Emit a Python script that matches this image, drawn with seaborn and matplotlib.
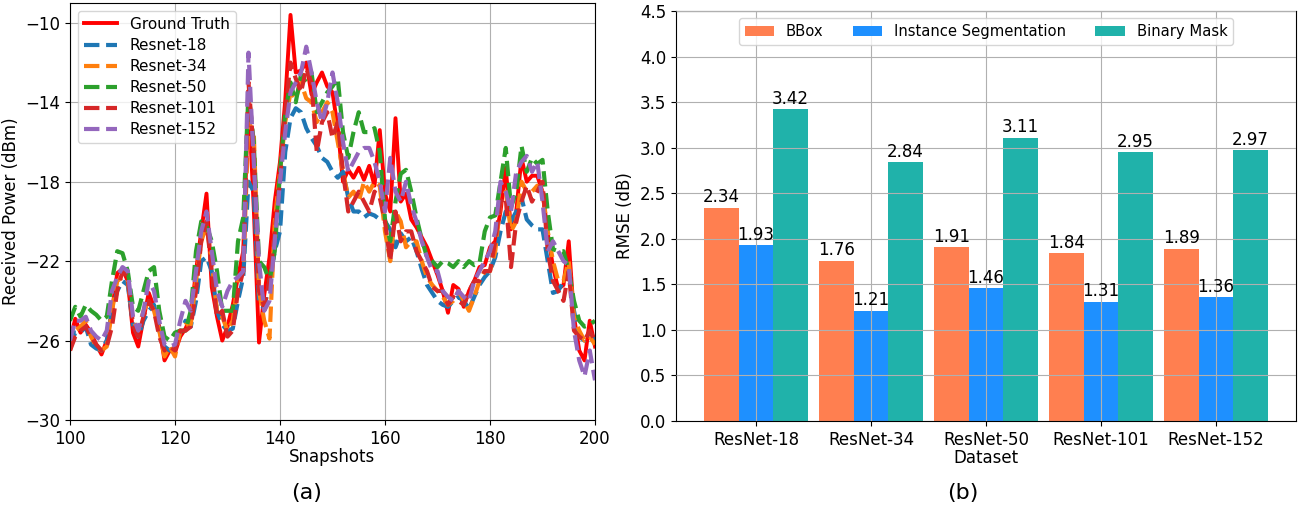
import matplotlib
matplotlib.use("Agg")
import matplotlib.pyplot as plt
import pandas as pd
import seaborn as sns

# ---------------- data: panel (a) ----------------
snapshots = list(range(100, 201))

ground_truth = [
    -26.0, -24.9, -25.6, -25.2, -25.6, -26.2, -26.7, -26.0, -24.5, -22.6,
    -22.4, -23.0, -25.6, -26.3, -24.9, -23.6, -24.3, -25.3, -27.0, -26.5,
    -26.6, -25.8, -25.4, -24.8, -22.5, -20.5, -18.6, -23.3, -24.8, -26.0,
    -25.3, -24.2, -22.8, -21.5, -13.8, -19.3, -26.1, -23.7, -21.8, -19.0,
    -17.0, -13.9, -9.6, -12.5, -12.4, -12.0, -13.6, -13.0, -12.5, -13.2,
    -13.5, -15.3, -18.0, -17.4, -17.8, -17.3, -17.9, -17.2, -18.2, -15.4,
    -18.6, -19.5, -14.8, -19.0, -18.6, -19.9, -20.3, -20.8, -21.3, -22.0,
    -22.7, -23.5, -24.6, -23.2, -23.4, -24.3, -23.5, -23.0, -22.3, -22.2,
    -21.3, -21.0, -19.5, -17.3, -20.4, -19.5, -16.8, -18.0, -17.7, -17.7,
    -18.5, -20.6, -22.3, -23.4, -23.2, -21.0, -24.8, -26.5, -27.0, -25.0,
    -26.3]

resnet18 = [
    -26.3, -25.6, -25.6, -25.3, -26.2, -26.4, -26.5, -26.0, -24.5, -23.5,
    -23.0, -23.2, -25.2, -25.8, -25.0, -24.5, -24.2, -25.5, -26.3, -26.5,
    -26.3, -25.6, -25.0, -25.3, -24.0, -22.0, -21.8, -22.5, -24.5, -25.2,
    -25.5, -25.4, -24.0, -22.8, -18.0, -18.5, -24.0, -24.4, -23.0, -21.5,
    -20.5, -16.5, -14.8, -14.3, -14.5, -15.3, -15.8, -16.2, -16.8, -17.0,
    -17.5, -17.8, -17.5, -18.8, -19.5, -19.5, -19.8, -19.6, -19.7, -19.9,
    -20.0, -20.4, -21.3, -20.6, -21.0, -20.8, -21.5, -22.4, -23.2, -23.6,
    -24.0, -24.2, -24.3, -24.0, -23.8, -24.0, -24.4, -23.8, -23.2, -22.8,
    -22.5, -21.8, -20.5, -19.5, -20.0, -19.5, -18.8, -19.9, -20.2, -20.4,
    -20.4, -22.0, -23.6, -23.5, -23.0, -22.5, -24.5, -25.8, -26.0, -25.6,
    -26.0]

resnet34 = [
    -26.5, -25.5, -25.3, -25.0, -25.8, -26.3, -26.5, -26.3, -24.5, -23.0,
    -22.8, -23.0, -25.0, -25.5, -24.5, -24.0, -24.5, -25.5, -26.8, -26.3,
    -26.8, -25.5, -25.2, -25.2, -23.0, -21.0, -20.2, -22.0, -24.5, -24.8,
    -25.5, -25.0, -23.0, -22.5, -15.0, -15.5, -23.5, -25.0, -25.9, -20.0,
    -17.5, -15.0, -13.5, -13.8, -13.0, -13.8, -14.0, -15.0, -14.5, -14.0,
    -14.5, -16.0, -17.5, -18.8, -18.5, -19.0, -18.0, -18.5, -18.0, -18.2,
    -20.5, -22.0, -19.5, -20.0, -21.3, -21.0, -21.0, -22.0, -22.8, -23.2,
    -23.5, -23.8, -24.2, -24.0, -23.5, -24.0, -24.5, -23.8, -23.0, -22.5,
    -22.5, -21.5, -19.0, -18.5, -20.5, -20.0, -18.0, -18.5, -18.5, -18.2,
    -18.5, -20.5, -22.0, -23.0, -23.0, -22.0, -24.8, -25.5, -26.0, -25.8,
    -26.2]

resnet50 = [
    -25.0, -24.3, -24.8, -24.2, -24.5, -24.7, -25.0, -24.8, -23.0, -21.5,
    -21.6, -22.5, -24.3, -24.5, -23.5, -22.5, -22.3, -24.5, -25.8, -26.0,
    -25.6, -25.5, -25.5, -24.5, -21.5, -20.0, -20.2, -21.0, -22.5, -24.5,
    -24.5, -24.5, -21.0, -19.8, -13.5, -16.0, -22.0, -22.3, -23.0, -21.5,
    -17.5, -14.5, -13.0, -14.0, -12.6, -13.0, -12.5, -14.5, -14.0, -13.5,
    -13.2, -12.8, -15.5, -16.8, -15.5, -14.5, -15.5, -15.5, -15.3, -16.5,
    -19.9, -21.0, -19.0, -17.6, -17.4, -18.5, -19.8, -20.9, -21.8, -22.0,
    -22.3, -22.0, -22.1, -22.3, -22.0, -22.3, -22.0, -22.2, -22.1, -20.5,
    -19.8, -19.7, -18.0, -16.3, -19.3, -18.5, -16.2, -17.5, -16.8, -17.1,
    -16.9, -19.5, -21.4, -21.5, -21.5, -22.5, -24.0, -25.0, -25.3, -25.2,
    -25.0]

resnet101 = [
    -26.5, -25.8, -25.5, -25.3, -25.8, -26.2, -26.5, -26.3, -25.3, -23.5,
    -22.5, -22.8, -25.2, -25.8, -24.8, -24.0, -24.5, -25.8, -26.5, -26.3,
    -26.5, -25.5, -25.5, -25.3, -23.5, -21.0, -20.0, -22.5, -24.8, -24.5,
    -25.8, -25.5, -23.5, -22.5, -13.0, -16.5, -23.5, -24.3, -23.0, -20.5,
    -18.0, -14.5, -12.0, -12.8, -13.5, -12.3, -13.0, -16.5, -15.0, -14.5,
    -15.8, -15.0, -17.5, -19.5, -19.0, -18.5, -19.0, -19.5, -18.5, -18.8,
    -20.0, -22.0, -19.5, -21.0, -20.5, -20.5, -21.5, -22.0, -22.5, -23.3,
    -23.5, -23.5, -24.2, -23.8, -24.0, -24.2, -23.5, -23.0, -23.0, -22.5,
    -22.5, -21.0, -19.0, -18.8, -22.3, -20.0, -19.0, -18.2, -19.0, -18.5,
    -18.0, -21.5, -23.0, -23.5, -24.0, -22.5, -25.5, -25.8, -26.0, -25.5,
    -26.0]

resnet152 = [
    -26.0, -25.0, -25.0, -24.8, -25.5, -25.8, -26.0, -25.5, -23.5, -22.8,
    -22.3, -22.5, -24.8, -25.5, -24.5, -23.0, -23.5, -25.0, -26.2, -26.3,
    -26.2, -25.0, -24.0, -24.5, -22.5, -20.5, -19.5, -21.5, -23.5, -24.3,
    -23.5, -23.0, -22.8, -22.5, -11.5, -17.0, -22.0, -24.5, -24.0, -21.0,
    -18.0, -15.5, -13.5, -13.0, -12.5, -11.2, -12.5, -14.0, -15.0, -14.0,
    -12.5, -14.0, -16.0, -17.5, -17.0, -16.5, -16.3, -16.3, -17.0, -18.0,
    -19.5, -16.8, -18.5, -19.0, -18.0, -19.2, -20.0, -21.0, -21.8, -22.5,
    -22.5, -23.5, -23.8, -24.0, -23.5, -23.8, -24.0, -23.0, -22.5, -22.0,
    -21.5, -20.5, -18.0, -18.5, -19.5, -17.5, -17.0, -16.7, -17.5, -17.0,
    -19.0, -21.5, -21.0, -21.5, -22.0, -22.2, -25.5, -27.0, -27.8, -26.5,
    -28.0]

series_names = ["Ground Truth", "Resnet-18", "Resnet-34", "Resnet-50",
                "Resnet-101", "Resnet-152"]
series_values = [ground_truth, resnet18, resnet34, resnet50, resnet101, resnet152]
series_colors = ["#ff0000", "#1f77b4", "#ff7f0e", "#2ca02c", "#d62728", "#9467bd"]
series_styles = ["-", "--", "--", "--", "--", "--"]

# ---------------- data: panel (b) ----------------
datasets = ["ResNet-18", "ResNet-34", "ResNet-50", "ResNet-101", "ResNet-152"]
methods = ["BBox", "Instance Segmentation", "Binary Mask"]
bbox_rmse = [2.34, 1.76, 1.91, 1.84, 1.89]
instance_rmse = [1.93, 1.21, 1.46, 1.31, 1.36]
binary_rmse = [3.42, 2.84, 3.11, 2.95, 2.97]
method_colors = ["#ff7f50", "#1e90ff", "#20b2aa"]

# ---------------- figure ----------------
W, H = 1308, 514
fig = plt.figure(figsize=(W / 100, H / 100), dpi=100)
ax1 = fig.add_axes([70 / W, 94 / H, 525 / W, 417 / H])
ax2 = fig.add_axes([676 / W, 93 / H, 620 / W, 410 / H])

# panel (a)
for name, vals, col, ls in zip(series_names, series_values, series_colors, series_styles):
    sns.lineplot(x=snapshots, y=vals, ax=ax1, color=col, linestyle=ls,
                 linewidth=2.8 if ls == "-" else 3.0, label=name)
ax1.set_xlim(100, 200)
ax1.set_ylim(-30, -9)
ax1.set_xticks([100, 120, 140, 160, 180, 200])
ax1.set_yticks([-30, -26, -22, -18, -14, -10])
ax1.grid(True, color="#b0b0b0", linewidth=0.8)
ax1.set_xlabel("Snapshots", fontsize=12, labelpad=0)
ax1.set_ylabel("Received Power (dBm)", fontsize=12)
ax1.tick_params(labelsize=12)
ax1.legend(loc="upper left", fontsize=11, labelspacing=0.4, handlelength=2.2)

# panel (b)
df = pd.DataFrame({
    "Dataset": datasets * 3,
    "RMSE": bbox_rmse + instance_rmse + binary_rmse,
    "Method": [methods[0]] * 5 + [methods[1]] * 5 + [methods[2]] * 5,
})
sns.barplot(data=df, x="Dataset", y="RMSE", hue="Method", order=datasets,
            hue_order=methods, palette=dict(zip(methods, method_colors)),
            width=0.9, errorbar=None, saturation=1, ax=ax2, linewidth=0)
for cont in ax2.containers:
    ax2.bar_label(cont, fmt="%.2f", fontsize=12, padding=1)
ax2.set_xlim(-0.695, 4.695)
ax2.set_ylim(0, 4.5)
ax2.set_yticks([0.0, 0.5, 1.0, 1.5, 2.0, 2.5, 3.0, 3.5, 4.0, 4.5])
ax2.grid(True, color="#b0b0b0", linewidth=0.8)
ax2.set_axisbelow(False)
ax2.set_xlabel("Dataset", fontsize=12, labelpad=0)
ax2.set_ylabel("RMSE (dB)", fontsize=12)
ax2.tick_params(labelsize=12)
ax2.legend(loc="upper center", ncol=3, fontsize=10.6)

fig.text(307 / W, 1 - 493 / H, "(a)", ha="center", va="center", fontsize=16)
fig.text(963 / W, 1 - 493 / H, "(b)", ha="center", va="center", fontsize=16)

fig.savefig("out.png", dpi=100)
